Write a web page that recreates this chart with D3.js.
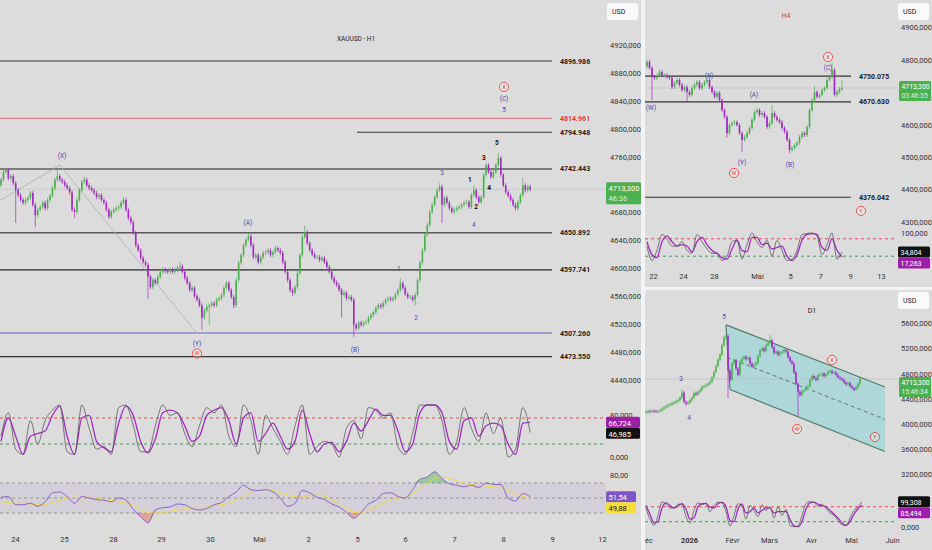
<!DOCTYPE html>
<html>
<head>
<meta charset="utf-8">
<script src="https://cdn.jsdelivr.net/npm/d3@7"></script>
<style>
  body { margin: 0; background: #dcdcdc; }
  svg { display: block; font-family: Roboto, "DejaVu Sans", sans-serif; }
</style>
</head>
<body>
<svg id="chart" width="932" height="550"></svg>
<script>
// ---- data: H1 panel ----
const h1Closes = [4727,4738,4741,4729,4732,4722,4712,4705,4698,4694,
  4698,4701,4708,4691,4676,4684,4688,4694,4686,4698,
  4704,4715,4727,4732,4727,4724,4719,4715,4709,4684,
  4681,4698,4712,4724,4727,4719,4715,4712,4708,4702,
  4705,4698,4694,4684,4674,4681,4684,4686,4688,4694,
  4698,4684,4672,4666,4651,4633,4626,4615,4609,4605,
  4588,4573,4583,4579,4588,4595,4598,4596,4595,4598,
  4595,4598,4601,4603,4595,4586,4579,4569,4572,4560,
  4555,4547,4529,4540,4545,4547,4550,4547,4555,4557,
  4562,4572,4579,4569,4559,4547,4583,4608,4619,4633,
  4641,4646,4633,4616,4619,4609,4616,4622,4623,4626,
  4619,4623,4629,4626,4622,4609,4595,4583,4569,4565,
  4573,4593,4619,4645,4652,4636,4626,4620,4616,4616,
  4612,4615,4609,4602,4595,4586,4580,4576,4569,4562,
  4565,4557,4559,4555,4519,4514,4522,4519,4522,4523,
  4529,4533,4537,4543,4547,4545,4550,4555,4557,4555,
  4557,4563,4569,4579,4572,4563,4559,4559,4555,4562,
  4583,4608,4626,4648,4662,4681,4691,4702,4712,4717,
  4691,4701,4694,4686,4681,4684,4686,4688,4691,4694,
  4695,4688,4705,4712,4702,4695,4702,4734,4748,4738,
  4731,4738,4748,4758,4734,4719,4709,4704,4698,4691,
  4686,4695,4705,4719,4712,4717,4713.3];
const h1FirstOpen = 4719;
const h1Highs = {23: 4744, 34: 4731, 50: 4702, 73: 4609, 101: 4651, 124: 4661, 163: 4586, 179: 4722, 193: 4719, 198: 4751, 203: 4765, 213: 4729};
const h1Lows = {6: 4665, 14: 4659, 30: 4672, 60: 4557, 82: 4512, 85: 4519, 95: 4543, 119: 4560, 139: 4529, 144: 4502, 169: 4547, 180: 4665};
const h1Levels = [4896.986, 4814.961, 4794.948, 4742.443, 4650.892, 4597.741, 4507.260, 4473.550];
const h1PriceTicks = [4440,4480,4520,4560,4600,4640,4680,4760,4800,4840,4880,4920];
const h1DayLabels = ["24","25","28","29","30","Mai","2","5","6","7","8","9","12"];
const h1DayIndex = [5.7,25.7,45.7,65.3,85.3,105.3,125.3,145.3,164.9,184.9,204.9,224.9,245.3];
const h1Connector = [{i: -1, p: 4696}, {i: 24, p: 4748}, {i: 80, p: 4507}];
const h1Waves = [
  {t: "(X)", i: 24.9, p: 4761, k: "blue"}, {t: "(A)", i: 100.8, p: 4666, k: "blue"},
  {t: "(Y)", i: 80, p: 4492, k: "blue"}, {t: "W", i: 80, p: 4478, k: "red"},
  {t: "(B)", i: 144.5, p: 4484, k: "blue"}, {t: "1", i: 162.4, p: 4599, k: "gray"},
  {t: "2", i: 169.4, p: 4529, k: "blue"}, {t: "3", i: 180, p: 4737, k: "blue"},
  {t: "4", i: 193, p: 4663, k: "blue"}, {t: "1", i: 191.4, p: 4727, k: "dark"},
  {t: "2", i: 193.9, p: 4688, k: "dark"}, {t: "3", i: 197.1, p: 4758, k: "dark"},
  {t: "4", i: 199.2, p: 4715, k: "dark"}, {t: "5", i: 202.4, p: 4780, k: "dark"},
  {t: "X", i: 205.3, p: 4860, k: "red"}, {t: "(C)", i: 205.3, p: 4843, k: "blue"},
  {t: "5", i: 205.3, p: 4827, k: "blue"}
];
// stochastic + rsi, one point every 3 candles
const h1StochK = [40,85,15,5,70,25,70,90,100,10, 5,100,55,15,20,5,95,100,60,10,
  10,60,100,80,85,45,20,60,95,85, 100,40,20,100,70,5,80,55,30,5,
  60,100,5,20,30,25,0,55,70,35, 95,90,75,85,20,5,45,100,100,100,
  70,5,30,95,55,30,85,45,75,0, 15,95,46.985];
const h1StochD = [30,75,40,5,40,45,50,80,98,40, 5,75,80,30,18,10,65,98,80,30,
  8,35,85,90,85,60,30,40,80,90, 95,70,25,75,85,30,45,65,40,15,
  30,90,45,10,25,28,10,30,65,50, 70,92,80,80,50,10,25,85,100,100,
  85,30,15,70,75,40,60,65,60,25, 5,65,66.724];
const h1Rsi = [51,52,41,41,43,39,45,57,58,52, 43,52,50,48,47,45,50,47,35,25,
  17,34,37,38,42,41,36,34,36,41, 44,52,58,67,61,60,61,58,50,39,
  43,60,57,51,48,42,38,31,23,31, 42,47,56,57,52,50,61,75,78,85,
  76,69,67,65,67,64,70,68,68,50, 46,56,51.54];
const h1RsiMa = [45,44,43,43,42,41,41,44,47,50, 51,51,51,50,48,47,45,43,40,35,
  30,30,30,32,34,36,37,37,38,40, 41,43,47,52,57,60,61,60,57,54,
  52,51,53,54,52,48,43,36,31,30, 34,38,43,47,50,51,56,62,70,76,
  78,76,73,70,68,67,66,65,64,60, 56,52,49.88];

// ---- data: H4 panel ----
const h4Closes = [4794,4775,4747,4744,4753,4763,4753,4753,4747,4744,
  4716,4729,4738,4723,4707,4716,4701,4692,4713,4723,
  4732,4713,4723,4732,4738,4716,4701,4686,4698,4676,
  4645,4624,4574,4599,4605,4608,4599,4574,4553,4562,
  4574,4590,4615,4639,4645,4630,4636,4624,4593,4605,
  4636,4624,4615,4608,4590,4578,4553,4522,4528,4537,
  4544,4562,4574,4568,4593,4645,4676,4701,4686,4692,
  4707,4713,4738,4747,4769,4692,4701,4710,4713.3];
const h4FirstOpen = 4780;
const h4Highs = {0: 4800, 50: 4660, 67: 4720, 74: 4790, 78: 4738};
const h4Lows = {2: 4676, 16: 4667, 32: 4560, 38: 4516, 57: 4513};
const h4Levels = [4750.075, 4670.630, 4376.042];
const h4PriceTicks = [4300,4400,4500,4600,4800,4900];
const h4DayLabels = ["22","24","28","Mai","5","7","9","13"];
const h4DayIndex = [2.4,14.4,26.8,44,57.2,69.2,81.2,93.6];
const h4Waves = [
  {t: "(W)", i: 1.6, p: 4652, k: "blue"}, {t: "(X)", i: 24.8, p: 4750, k: "blue"},
  {t: "(A)", i: 42.8, p: 4692, k: "blue"}, {t: "(Y)", i: 38, p: 4482, k: "blue"},
  {t: "W", i: 34.8, p: 4451, k: "red"}, {t: "(B)", i: 57.2, p: 4476, k: "blue"},
  {t: "X", i: 72.4, p: 4809, k: "red"}, {t: "(C)", i: 72.4, p: 4775, k: "blue"},
  {t: "Y", i: 85.6, p: 4334, k: "red"}
];
// one point every 2 candles
const h4StochK = [55,5,40,95,80,55,55,70,40,30, 95,70,45,30,30,5,20,70,75,10,
  60,100,70,50,75,20,75,40,5,10, 40,95,98,100,90,25,60,100,10,34.804];
const h4StochD = [70,25,15,70,90,70,55,60,55,35, 70,85,60,40,30,15,10,45,75,40,
  35,85,85,60,65,45,50,55,20,5, 25,75,95,98,95,50,40,80,40,17.263];

// ---- data: D1 panel ----
const d1Closes = [4190,4205,4195,4210,4200,4195,4205,4215,4240,4265,
  4280,4300,4310,4333,4340,4360,4380,4420,4500,4350,
  4320,4340,4380,4420,4490,4470,4510,4540,4590,4600,
  4620,4640,4670,4740,4830,4920,5020,5100,5250,5380,
  5400,4850,4700,4960,5010,4880,4780,4990,5040,5070,
  5030,5050,4960,4910,4940,4970,5080,5170,5200,5160,
  5250,5290,5330,5220,5130,5150,5100,5130,5150,5175,
  5150,5060,5000,4960,4820,4640,4510,4460,4520,4540,
  4590,4600,4700,4760,4730,4700,4778,4780,4800,4760,
  4790,4830,4840,4810,4820,4780,4740,4720,4700,4660,
  4630,4650,4600,4570,4545,4580,4640,4713.3];
const d1FirstOpen = 4180;
const d1Highs = {18: 4550, 40: 5440, 62: 5414};
const d1Lows = {20: 4290, 41: 4410, 76: 4115};
const d1PriceTicks = [3200,3600,4000,4400,4800,5200,5600];
const d1MonthLabels = ["Déc","2026","Févr","Mars","Avr","Mai","Juin"];
const d1MonthIndex = [0,21.5,43,61.5,82.5,102.5,123];
const d1ChannelUpper = [[40, 5575], [119.5, 4588]];
const d1ChannelLower = [[42, 4547], [119.5, 3562]];
const d1ChannelMid = [[40.5, 5061], [119.5, 4075]];
const d1Waves = [
  {t: "5", i: 39, p: 5700, k: "blue"}, {t: "3", i: 17.5, p: 4714, k: "blue"},
  {t: "4", i: 21.5, p: 4094, k: "blue"}, {t: "X", i: 93, p: 5017, k: "red"},
  {t: "W", i: 75.5, p: 3919, k: "red"}, {t: "Y", i: 114.5, p: 3792, k: "red"}
];
const d1StochK = [75,30,5,45,100,90,75,75,90,90, 40,15,65,95,88,95,60,85,98,95,
  60,2,45,92,85,30,85,65,40,88, 65,80,35,80,45,70,5,0,2,45,
  92,100,97,82,88,72,55,45,25,8, 5,35,65,80,99.308];
const d1StochD = [85,50,15,20,75,95,85,75,82,92, 70,30,35,80,92,92,78,75,92,97,
  80,25,20,70,90,55,60,75,55,65, 75,75,55,60,60,60,30,3,0,20,
  70,95,98,90,85,80,65,50,35,15, 5,20,50,72,85.494];

const lastPrice = 4713.3;

// ---- helpers ----
const GREEN = "#4caf50", PURPLE = "#a12bc0", RSI_COL = "#7e57c2";
const loc = d3.formatLocale({decimal: ",", thousands: "", grouping: [3], currency: ["", ""]});
const f3 = loc.format(".3f"), f2 = loc.format(".2f");

const svg = d3.select("#chart");
svg.append("rect").attr("width", 932).attr("height", 550).attr("fill", "#dcdcdc");
svg.append("rect").attr("x", 641).attr("width", 4).attr("height", 550).attr("fill", "#f3f3f3");
svg.append("rect").attr("x", 645).attr("y", 287).attr("width", 287).attr("height", 3).attr("fill", "#f3f3f3");

const defs = svg.append("defs");
function clip(id, x, y, w, h) {
  defs.append("clipPath").attr("id", id).append("rect")
    .attr("x", x).attr("y", y).attr("width", w).attr("height", h);
  return svg.append("g").attr("clip-path", `url(#${id})`);
}

function drawCandles(g, closes, open0, highs, lows, pad, x, y, bw) {
  const rows = closes.map((c, i) => {
    const o = i === 0 ? open0 : closes[i - 1];
    return {i, o, c,
      h: highs[i] !== undefined ? highs[i] : Math.max(o, c) + pad,
      l: lows[i] !== undefined ? lows[i] : Math.min(o, c) - pad};
  });
  const col = d => d.c >= d.o ? GREEN : PURPLE;
  g.selectAll(null).data(rows).join("line")
    .attr("x1", d => x(d.i)).attr("x2", d => x(d.i))
    .attr("y1", d => y(d.h)).attr("y2", d => y(d.l))
    .attr("stroke", col).attr("stroke-width", 0.7);
  g.selectAll(null).data(rows).join("rect")
    .attr("x", d => x(d.i) - bw / 2).attr("width", bw)
    .attr("y", d => y(Math.max(d.o, d.c)))
    .attr("height", d => Math.max(0.8, Math.abs(y(d.o) - y(d.c))))
    .attr("fill", col);
}

function hDash(g, y, x0, x1, color) {
  g.append("line").attr("x1", x0).attr("x2", x1).attr("y1", y).attr("y2", y)
    .attr("stroke", color).attr("stroke-width", 0.9).attr("stroke-dasharray", "3,3");
}

function drawStoch(g, k, d, step, x, y, x0, x1, levels) {
  hDash(g, y(levels[0]), x0, x1, "#e0403a");
  hDash(g, y(levels[1]), x0, x1, "#3a8f4e");
  const line = d3.line().x((v, j) => x(j * step)).y(v => y(v)).curve(d3.curveMonotoneX);
  g.append("path").datum(d).attr("d", line).attr("fill", "none")
    .attr("stroke", PURPLE).attr("stroke-width", 1.3);
  g.append("path").datum(k).attr("d", line).attr("fill", "none")
    .attr("stroke", "#5a5a5a").attr("stroke-width", 0.8);
}

function priceAxis(yScale, ticks, fmt, xPos) {
  const ax = svg.append("g").attr("transform", `translate(${xPos},0)`)
    .call(d3.axisRight(yScale).tickValues(ticks).tickFormat(fmt).tickSize(0).tickPadding(0));
  ax.select(".domain").remove();
  ax.attr("font-size", 7.5).attr("font-family", "Roboto, sans-serif");
  ax.selectAll("text").attr("fill", "#333");
  return ax;
}

function timeAxis(g, xScale, idx, labels, yPos, boldLabel) {
  const ax = g.append("g").attr("transform", `translate(0,${yPos})`)
    .call(d3.axisBottom(xScale).tickValues(idx).tickFormat((d, i) => labels[i]).tickSize(0).tickPadding(3));
  ax.select(".domain").remove();
  ax.attr("font-size", 7.5).attr("font-family", "Roboto, sans-serif");
  ax.selectAll("text").attr("fill", "#333")
    .attr("font-weight", (d, i) => labels[i] === boldLabel ? "bold" : null);
}

function valueBox(x, yc, w, h, fill, color, lines, fs) {
  const size = fs || 7.5;
  svg.append("rect").attr("x", x).attr("y", yc - h / 2).attr("width", w).attr("height", h)
    .attr("rx", 1.5).attr("fill", fill);
  const gap = lines.length > 1 ? (h - 2) / lines.length : h;
  lines.forEach((t, j) => {
    svg.append("text").attr("x", x + 2.5).attr("y", yc - h / 2 + 1 + gap * (j + 0.5))
      .attr("dy", "0.35em").attr("font-size", size)
      .attr("fill", j === 0 ? color : "rgba(255,255,255,0.85)").text(t);
  });
}

function usdBox(x, y) {
  svg.append("rect").attr("x", x).attr("y", y).attr("width", 31).attr("height", 17)
    .attr("rx", 3).attr("fill", "#fafafa");
  svg.append("text").attr("x", x + 5).attr("y", y + 11).attr("font-size", 7).attr("fill", "#222").text("USD");
}

function waveLabels(g, items, x, y) {
  items.forEach(w => {
    const px = x(w.i), py = y(w.p);
    if (w.k === "red") {
      g.append("circle").attr("cx", px).attr("cy", py).attr("r", 4.6)
        .attr("fill", "rgba(255,255,255,0.3)").attr("stroke", "#e53935").attr("stroke-width", 0.8);
      g.append("text").attr("x", px).attr("y", py).attr("dy", "0.36em").attr("text-anchor", "middle")
        .attr("font-size", 5.5).attr("fill", "#e53935").text(w.t);
    } else {
      const c = w.k === "blue" ? "#4a4ab0" : w.k === "gray" ? "#555" : "#111";
      g.append("text").attr("x", px).attr("y", py).attr("dy", "0.36em").attr("text-anchor", "middle")
        .attr("font-size", 6.5).attr("font-weight", w.k === "dark" ? "bold" : null)
        .attr("fill", c).text(w.t);
    }
  });
}

// ================= H1 (left) =================
const xH1 = d3.scaleLinear().domain([0, 216]).range([1, 530.2]);
const yH1 = d3.scaleLinear().domain([4440, 4920]).range([380, 45]);
const yH1St = d3.scaleLinear().domain([0, 100]).range([457, 405]);
const yRsi = d3.scaleLinear().domain([30, 70]).range([513, 483]);

const gH1 = clip("clipH1", 0, 0, 606, 530);

// levels
const h1LevelStyle = [
  {c: "#333", w: 1.1, lc: "#222"}, {c: "#e57373", w: 1, lc: "#e53935"},
  {c: "#333", w: 1.1, lc: "#222", from: 145.3}, {c: "#7d7d7d", w: 2, lc: "#222"},
  {c: "#5a5a5a", w: 1.6, lc: "#222"}, {c: "#5a5a5a", w: 1.6, lc: "#222"},
  {c: "#8c8cc8", w: 1.6, lc: "#222"}, {c: "#333", w: 1.3, lc: "#222"}
];
gH1.append("line").attr("x1", 0).attr("x2", 606)
  .attr("y1", yH1(lastPrice)).attr("y2", yH1(lastPrice))
  .attr("stroke", "#c6c6c6").attr("stroke-width", 0.8);
h1Levels.forEach((v, j) => {
  const s = h1LevelStyle[j];
  gH1.append("line").attr("x1", xH1(s.from !== undefined ? s.from : -1)).attr("x2", xH1(224.9))
    .attr("y1", yH1(v)).attr("y2", yH1(v)).attr("stroke", s.c).attr("stroke-width", s.w);
  gH1.append("text").attr("x", 560).attr("y", yH1(v)).attr("dy", "0.35em")
    .attr("font-size", 7).attr("font-weight", "bold").attr("fill", s.lc).text(v.toFixed(3));
});

// connector
gH1.append("path").datum(h1Connector)
  .attr("d", d3.line().x(d => xH1(d.i)).y(d => yH1(d.p)))
  .attr("fill", "none").attr("stroke", "#a8a8a8").attr("stroke-width", 0.7);

drawCandles(gH1, h1Closes, h1FirstOpen, h1Highs, h1Lows, 3, xH1, yH1, 1.6);
waveLabels(gH1, h1Waves, xH1, yH1);

svg.append("text").attr("x", 337).attr("y", 41).attr("font-size", 6.5).attr("fill", "#222").text("XAUUSD - H1");

// stochastic
drawStoch(gH1, h1StochK, h1StochD, 3, xH1, yH1St, 0, 606, [75, 25]);

// rsi
gH1.append("rect").attr("x", 0).attr("width", 606).attr("y", yRsi(70)).attr("height", yRsi(30) - yRsi(70))
  .attr("fill", "rgba(126,87,194,0.09)");
[70, 50, 30].forEach(v => hDash(gH1, yRsi(v), 0, 606, "#8a8a8a"));
const xr = (v, j) => xH1(j * 3);
gH1.append("path").datum(h1Rsi)
  .attr("d", d3.area().x(xr).y0(yRsi(70)).y1(v => yRsi(Math.max(v, 70))).curve(d3.curveMonotoneX))
  .attr("fill", "rgba(76,175,80,0.45)");
gH1.append("path").datum(h1Rsi)
  .attr("d", d3.area().x(xr).y0(yRsi(30)).y1(v => yRsi(Math.min(v, 30))).curve(d3.curveMonotoneX))
  .attr("fill", "rgba(229,57,53,0.35)");
gH1.append("path").datum(h1RsiMa)
  .attr("d", d3.line().x(xr).y(v => yRsi(v)).curve(d3.curveMonotoneX))
  .attr("fill", "none").attr("stroke", "#f2d64b").attr("stroke-width", 1);
gH1.append("path").datum(h1Rsi)
  .attr("d", d3.line().x(xr).y(v => yRsi(v)).curve(d3.curveMonotoneX))
  .attr("fill", "none").attr("stroke", RSI_COL).attr("stroke-width", 0.9);

timeAxis(svg, xH1, h1DayIndex, h1DayLabels, 534, null);

priceAxis(yH1, h1PriceTicks, f3, 610);
priceAxis(yH1St, [0, 80], f3, 610);
priceAxis(yRsi, [80], f2, 610);
usdBox(607, 3);
valueBox(606, yH1(lastPrice) + 4, 35, 22, "#4caf50", "#fff", ["4713,300", "46:36"]);
{
  const yD = yH1St(h1StochD[h1StochD.length - 1]), yK = Math.max(yH1St(h1StochK[h1StochK.length - 1]), yD + 11);
  valueBox(606, yD, 34, 11, "#9c1fa8", "#fff", [f3(h1StochD[h1StochD.length - 1])]);
  valueBox(606, yK, 34, 11, "#111", "#fff", [f3(h1StochK[h1StochK.length - 1])]);
  const yR = yRsi(h1Rsi[h1Rsi.length - 1]), yM = Math.max(yRsi(h1RsiMa[h1RsiMa.length - 1]), yR + 11);
  valueBox(606, yR, 30, 11, RSI_COL, "#fff", [f2(h1Rsi[h1Rsi.length - 1])]);
  valueBox(606, yM, 30, 11, "#f7dc3c", "#222", [f2(h1RsiMa[h1RsiMa.length - 1])]);
}

// ================= H4 (top right) =================
const xH4 = d3.scaleLinear().domain([0, 78]).range([647, 842]);
const yH4 = d3.scaleLinear().domain([4300, 4900]).range([221.9, 27.5]);
const yH4St = d3.scaleLinear().domain([0, 100]).range([262, 233]);
const gH4 = clip("clipH4", 645, 0, 287, 287);

gH4.append("line").attr("x1", 645).attr("x2", 897).attr("y1", yH4(lastPrice)).attr("y2", yH4(lastPrice))
  .attr("stroke", "#c6c6c6").attr("stroke-width", 0.8);
h4Levels.forEach(v => {
  gH4.append("line").attr("x1", 645).attr("x2", 851).attr("y1", yH4(v)).attr("y2", yH4(v))
    .attr("stroke", "#333").attr("stroke-width", 1.2);
  gH4.append("text").attr("x", 859).attr("y", yH4(v)).attr("dy", "0.35em")
    .attr("font-size", 7).attr("font-weight", "bold").attr("fill", "#222").text(v.toFixed(3));
});
drawCandles(gH4, h4Closes, h4FirstOpen, h4Highs, h4Lows, 6, xH4, yH4, 1.7);
waveLabels(gH4, h4Waves, xH4, yH4);
drawStoch(gH4, h4StochK, h4StochD, 2, xH4, yH4St, 645, 897, [80, 20]);
timeAxis(gH4, xH4, h4DayIndex, h4DayLabels, 271, null);
svg.append("text").attr("x", 786).attr("y", 18).attr("text-anchor", "middle")
  .attr("font-size", 7).attr("fill", "#e53935").text("H4");

priceAxis(yH4, h4PriceTicks, f3, 901);
priceAxis(yH4St, [100], f3, 901);
usdBox(898, 3);
valueBox(899, yH4(lastPrice) + 3, 32, 20, "#4caf50", "#fff", ["4713,300", "03:46:35"], 6.8);
{
  const yK = yH4St(h4StochK[h4StochK.length - 1]), yD = Math.max(yH4St(h4StochD[h4StochD.length - 1]), yK + 11);
  valueBox(898, yK, 32, 11, "#111", "#fff", [f3(h4StochK[h4StochK.length - 1])], 7);
  valueBox(898, yD, 32, 11, "#9c1fa8", "#fff", [f3(h4StochD[h4StochD.length - 1])], 7);
}

// ================= D1 (bottom right) =================
const xD1 = d3.scaleLinear().domain([0, 107]).range([646, 860]);
const yD1 = d3.scaleLinear().domain([3200, 5600]).range([474.3, 323.3]);
const yD1St = d3.scaleLinear().domain([0, 100]).range([526.7, 501.7]);
const gD1 = clip("clipD1", 645, 290, 287, 260);

gD1.append("path")
  .datum([d1ChannelUpper[0], d1ChannelUpper[1], d1ChannelLower[1], d1ChannelLower[0]])
  .attr("d", d3.line().x(d => xD1(d[0])).y(d => yD1(d[1])))
  .attr("fill", "#a3d6da").attr("fill-opacity", 0.8).attr("stroke", "none");
gD1.append("line").attr("x1", 645).attr("x2", 897).attr("y1", yD1(lastPrice)).attr("y2", yD1(lastPrice))
  .attr("stroke", "#c0c0c0").attr("stroke-width", 0.8);
[d1ChannelUpper, d1ChannelLower, [d1ChannelUpper[0], d1ChannelLower[0]]].forEach(seg => {
  gD1.append("path").datum(seg).attr("d", d3.line().x(d => xD1(d[0])).y(d => yD1(d[1])))
    .attr("stroke", "#4f7a60").attr("stroke-width", 1.1).attr("fill", "none");
});
gD1.append("path").datum(d1ChannelMid).attr("d", d3.line().x(d => xD1(d[0])).y(d => yD1(d[1])))
  .attr("stroke", "#5b6b6b").attr("stroke-width", 0.9).attr("stroke-dasharray", "4,3").attr("fill", "none");

drawCandles(gD1, d1Closes, d1FirstOpen, d1Highs, d1Lows, 25, xD1, yD1, 1.5);
waveLabels(gD1, d1Waves, xD1, yD1);
drawStoch(gD1, d1StochK, d1StochD, 2, xD1, yD1St, 645, 897, [80, 20]);
timeAxis(gD1, xD1, d1MonthIndex, d1MonthLabels, 535, "2026");
svg.append("text").attr("x", 812).attr("y", 313).attr("text-anchor", "middle")
  .attr("font-size", 7).attr("fill", "#222").text("D1");

priceAxis(yD1, d1PriceTicks, f3, 901);
priceAxis(yD1St, [0], f3, 901);
usdBox(898, 292);
valueBox(899, yD1(lastPrice) + 8, 32, 20, "#4caf50", "#fff", ["4713,300", "15:46:34"], 6.8);
{
  const yK = yD1St(d1StochK[d1StochK.length - 1]), yD = Math.max(yD1St(d1StochD[d1StochD.length - 1]), yK + 11);
  valueBox(898, yK, 32, 11, "#111", "#fff", [f3(d1StochK[d1StochK.length - 1])], 7);
  valueBox(898, yD, 32, 11, "#9c1fa8", "#fff", [f3(d1StochD[d1StochD.length - 1])], 7);
}
</script>
</body>
</html>
